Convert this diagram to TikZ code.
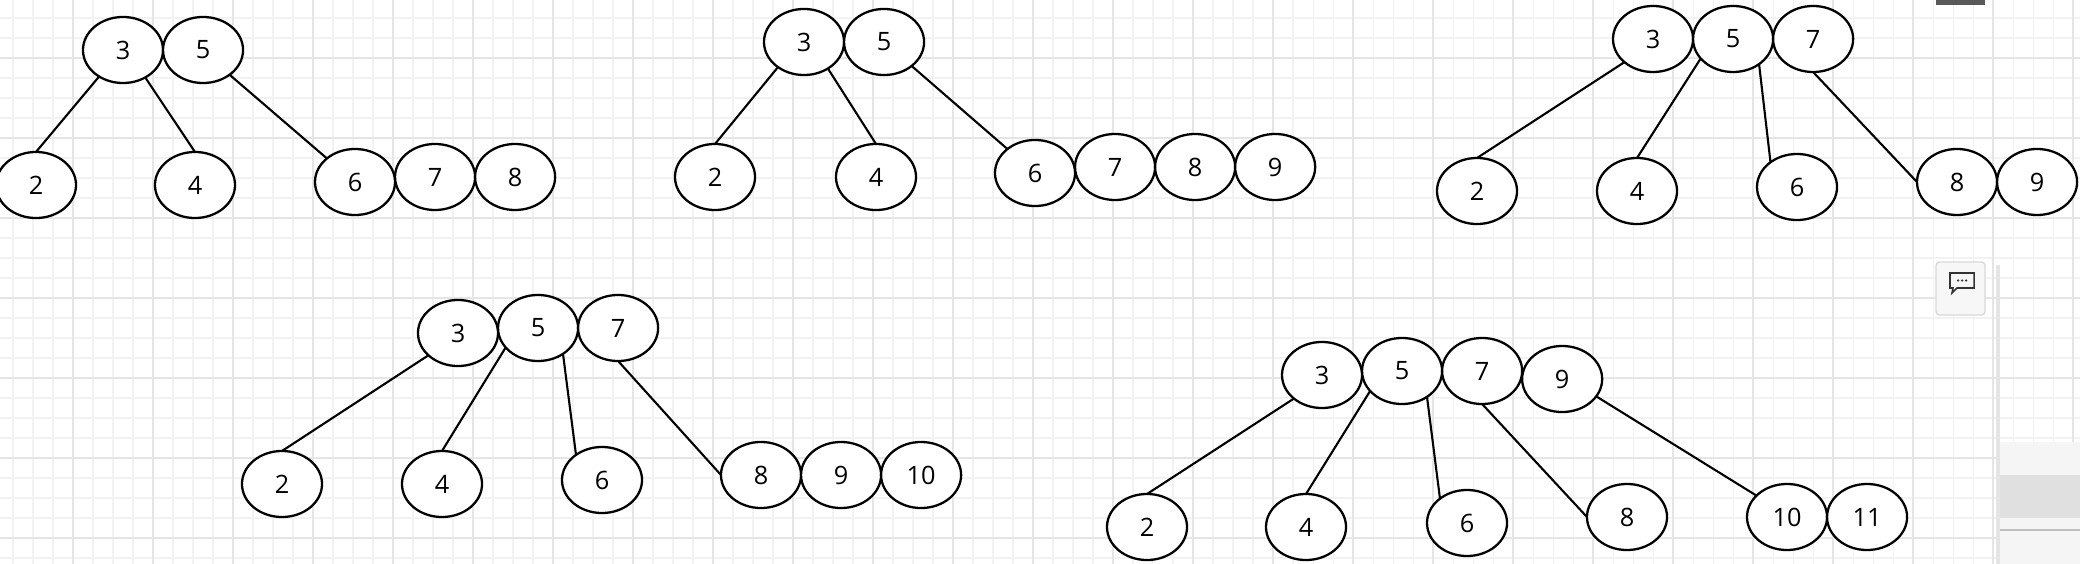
\documentclass[tikz,border=0pt]{standalone}
\usepackage{fontspec}
\setmainfont{Open Sans}
\usetikzlibrary{positioning, shapes.geometric}

\begin{document}
\begin{tikzpicture}[
  x=0.01cm, y=-0.01cm,
  node distance=0pt,
  key/.style={draw, ellipse, fill=white, line width=0.65pt, inner sep=0pt, outer sep=0pt,
    minimum width=0.8cm, minimum height=0.66cm, font=\fontsize{7.2}{8}\selectfont},
  link/.style={line width=0.6pt},
  gridminor/.style={draw=black!5, line width=0.3pt},
  gridmajor/.style={draw=black!10, line width=0.35pt}
]
\useasboundingbox (0,0) rectangle (2080,564);
\fill[white] (0,0) rectangle (2080,564);

% background grid
\foreach \x in {13,33,...,2073} \draw[gridminor] (\x,0) -- (\x,564);
\foreach \y in {18,38,...,558} \draw[gridminor] (0,\y) -- (2080,\y);
\foreach \x in {73,153,...,2073} \draw[gridmajor] (\x,0) -- (\x,564);
\foreach \y in {58,138,...,538} \draw[gridmajor] (0,\y) -- (2080,\y);

% editor panel on the right
\fill[black!65] (1936,0) rectangle (1985,5);
\fill[black!10] (1996,265) rectangle (2000,564);
\fill[black!4] (2000,442) rectangle (2080,564);
\fill[black!12] (2000,475) rectangle (2080,518);
\draw[black!25, line width=0.4pt] (2000,530) -- (2080,530);
\draw[black!15, fill=black!3, rounded corners=1pt] (1936,262) rectangle (1985,315);
\draw[black!80, line width=0.45pt] (1950,273) -- (1974,273) -- (1974,288) -- (1957,288)
  -- (1952,293) -- (1953,288) -- (1950,288) -- cycle;
\foreach \x in {1958,1962,1966} \fill[black!80] (\x,280.5) circle (0.35pt);

% first tree
\node[key] (a3) at (123,50) {3};
\node[key, right=of a3] (a5) {5};
\node[key] (a2) at (36,185) {2};
\node[key] (a4) at (195,185) {4};
\node[key] (a6) at (355,182) {6};
\node[key, right=of a6, yshift=0.05cm] (a7) {7};
\node[key, right=of a7] (a8) {8};
\draw[link] (a3.228) -- (a2.north);
\draw[link] (a3.309) -- (a4.north);
\draw[link] (a5.317) -- (a6.140);

% second tree
\node[key] (b3) at (804,42) {3};
\node[key, right=of b3] (b5) {5};
\node[key] (b2) at (715,177) {2};
\node[key] (b4) at (876,177) {4};
\node[key] (b6) at (1035,173) {6};
\node[key, right=of b6, yshift=0.06cm] (b7) {7};
\node[key, right=of b7] (b8) {8};
\node[key, right=of b8] (b9) {9};
\draw[link] (b3.224) -- (b2.north);
\draw[link] (b3.312) -- (b4.north);
\draw[link] (b5.319) -- (b6.139);

% third tree
\node[key] (c3) at (1653,39) {3};
\node[key, right=of c3] (c5) {5};
\node[key, right=of c5] (c7) {7};
\node[key] (c2) at (1477,191) {2};
\node[key] (c4) at (1637,191) {4};
\node[key] (c6) at (1797,187) {6};
\node[key] (c8) at (1957,182) {8};
\node[key, right=of c8] (c9) {9};
\draw[link] (c3.219) -- (c2.north);
\draw[link] (c5.211) -- (c4.north);
\draw[link] (c5.316) -- (c6.137);
\draw[link] (c7.south) -- (c8.west);

% fourth tree
\node[key] (d3) at (458,333) {3};
\node[key, right=of d3, yshift=0.05cm] (d5) {5};
\node[key, right=of d5] (d7) {7};
\node[key] (d2) at (282,484) {2};
\node[key] (d4) at (442,484) {4};
\node[key] (d6) at (602,480) {6};
\node[key] (d8) at (761,475) {8};
\node[key, right=of d8] (d9) {9};
\node[key, right=of d9] (d10) {10};
\draw[link] (d3.217) -- (d2.north);
\draw[link] (d5.211) -- (d4.north);
\draw[link] (d5.314) -- (d6.136);
\draw[link] (d7.south) -- (d8.west);

% fifth tree
\node[key] (e3) at (1322,375) {3};
\node[key, right=of e3, yshift=0.04cm] (e5) {5};
\node[key, right=of e5] (e7) {7};
\node[key, right=of e7, yshift=-0.08cm] (e9) {9};
\node[key] (e2) at (1147,527) {2};
\node[key] (e4) at (1306,527) {4};
\node[key] (e6) at (1467,523) {6};
\node[key] (e8) at (1627,517) {8};
\node[key] (e10) at (1787,517) {10};
\node[key, right=of e10] (e11) {11};
\draw[link] (e3.220) -- (e2.north);
\draw[link] (e5.212) -- (e4.north);
\draw[link] (e5.314) -- (e6.138);
\draw[link] (e7.south) -- (e8.west);
\draw[link] (e9.333) -- (e10.145);
\end{tikzpicture}
\end{document}
